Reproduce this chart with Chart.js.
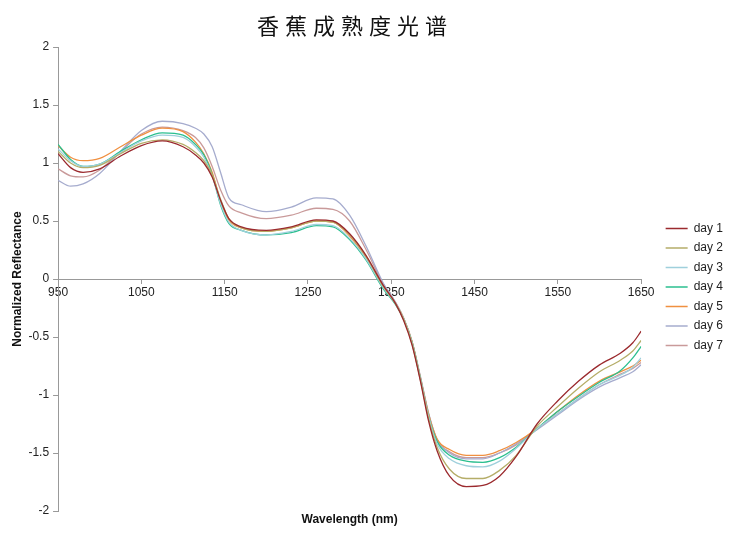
<!DOCTYPE html>
<html>
<head>
<meta charset="utf-8">
<script src="https://cdn.jsdelivr.net/npm/chart.js@4.4.1/dist/chart.umd.min.js"></script>
<style>
    body { margin: 0; background: #fff; }
    #wrap { position: relative; width: 742px; height: 545px; }
    #title {
        position: absolute; left: 0; top: 8px; width: 710px; text-align: center;
        font-family: "Noto Sans CJK SC", sans-serif; font-size: 22px; letter-spacing: 6px; color: #111;
    }
</style>
</head>
<body>
<div id="wrap">
    <div id="title">香蕉成熟度光谱</div>
    <canvas id="spectraChart" width="742" height="545"></canvas>
</div>
<script>
// wavelengths (nm)
const wavelengths = [950, 965, 980, 1000, 1025, 1050, 1075, 1100, 1115, 1125, 1135, 1145, 1155, 1170, 1200, 1230, 1260, 1280, 1300, 1320, 1340, 1355, 1365, 1375, 1385, 1395, 1405, 1420, 1440, 1460, 1480, 1500, 1525, 1550, 1575, 1600, 1625, 1640, 1650];

const day1 = [1.08, 0.96, 0.92, 0.95, 1.06, 1.15, 1.19, 1.14, 1.07, 1.00, 0.88, 0.68, 0.52, 0.45, 0.42, 0.45, 0.51, 0.50, 0.39, 0.20, -0.05, -0.21, -0.36, -0.57, -0.88, -1.23, -1.48, -1.70, -1.79, -1.78, -1.70, -1.53, -1.25, -1.05, -0.88, -0.74, -0.64, -0.55, -0.45];
const day2 = [1.10, 1.00, 0.96, 0.98, 1.08, 1.17, 1.20, 1.16, 1.09, 1.02, 0.90, 0.69, 0.52, 0.44, 0.41, 0.44, 0.50, 0.49, 0.38, 0.19, -0.06, -0.21, -0.35, -0.56, -0.87, -1.21, -1.45, -1.64, -1.72, -1.72, -1.65, -1.52, -1.27, -1.10, -0.94, -0.80, -0.70, -0.62, -0.53];
const day3 = [1.12, 1.02, 0.97, 0.99, 1.09, 1.19, 1.24, 1.22, 1.14, 1.05, 0.89, 0.65, 0.49, 0.42, 0.38, 0.41, 0.47, 0.46, 0.35, 0.17, -0.07, -0.21, -0.34, -0.55, -0.86, -1.19, -1.42, -1.55, -1.61, -1.62, -1.57, -1.46, -1.29, -1.16, -1.03, -0.91, -0.83, -0.76, -0.68];
const day4 = [1.16, 1.03, 0.97, 0.99, 1.10, 1.20, 1.26, 1.24, 1.16, 1.07, 0.90, 0.64, 0.48, 0.42, 0.38, 0.40, 0.46, 0.45, 0.34, 0.16, -0.08, -0.22, -0.35, -0.55, -0.86, -1.19, -1.40, -1.52, -1.57, -1.58, -1.54, -1.45, -1.29, -1.14, -1.01, -0.89, -0.79, -0.68, -0.58];
const day5 = [1.15, 1.05, 1.02, 1.04, 1.14, 1.24, 1.30, 1.27, 1.18, 1.08, 0.92, 0.67, 0.51, 0.44, 0.41, 0.44, 0.50, 0.49, 0.37, 0.18, -0.06, -0.21, -0.34, -0.54, -0.85, -1.17, -1.38, -1.47, -1.52, -1.52, -1.48, -1.41, -1.29, -1.14, -1.00, -0.88, -0.80, -0.75, -0.70];
const day6 = [0.85, 0.80, 0.82, 0.91, 1.10, 1.28, 1.36, 1.34, 1.30, 1.25, 1.14, 0.92, 0.70, 0.64, 0.58, 0.62, 0.70, 0.69, 0.55, 0.28, -0.03, -0.20, -0.34, -0.54, -0.84, -1.16, -1.38, -1.50, -1.55, -1.55, -1.50, -1.42, -1.30, -1.17, -1.04, -0.93, -0.85, -0.80, -0.74];
const day7 = [0.95, 0.89, 0.88, 0.94, 1.10, 1.25, 1.31, 1.28, 1.22, 1.13, 0.97, 0.77, 0.63, 0.57, 0.52, 0.55, 0.61, 0.60, 0.50, 0.25, -0.04, -0.20, -0.34, -0.54, -0.85, -1.17, -1.39, -1.49, -1.54, -1.54, -1.50, -1.43, -1.29, -1.16, -1.03, -0.91, -0.82, -0.77, -0.72];

const seriesNames = ['day 1', 'day 2', 'day 3', 'day 4', 'day 5', 'day 6', 'day 7'];
const seriesValues = [day1, day2, day3, day4, day5, day6, day7];
const seriesColors = ['#9b2a2e', '#b5ad68', '#9fd0dc', '#2bbf8f', '#f09040', '#a6acce', '#c99a9a'];
const xTicks = [950, 1050, 1150, 1250, 1350, 1450, 1550, 1650];

const datasets = seriesValues.map((vals, i) => ({
    label: seriesNames[i],
    data: vals.map((v, j) => ({ x: wavelengths[j], y: v })),
    xAxisID: 'x',
    yAxisID: 'y',
    borderColor: seriesColors[i],
    backgroundColor: seriesColors[i],
    borderWidth: 1.3,
    pointRadius: 0,
    cubicInterpolationMode: 'monotone',
    fill: false
}));

const font = { family: '"Liberation Sans", Arial, sans-serif', size: 12 };

new Chart(document.getElementById('spectraChart').getContext('2d'), {
    type: 'line',
    data: { datasets: datasets },
    options: {
        responsive: false,
        animation: false,
        layout: { padding: { top: 47, left: 10, right: 9, bottom: 16 } },
        plugins: {
            title: { display: false },
            tooltip: { enabled: false },
            legend: {
                position: 'right',
                fullSize: false,
                // blank legend title only nudges the items down a little
                title: { display: true, text: ' ', font: { size: 10 }, padding: { top: 2, bottom: 2 } },
                labels: {
                    usePointStyle: true,
                    pointStyle: 'line',
                    pointStyleWidth: 22,
                    padding: 7.5,
                    color: '#222',
                    font: font
                }
            }
        },
        scales: {
            x: {
                type: 'linear',
                position: { y: 0 },
                min: 950,
                max: 1650,
                afterBuildTicks: scale => { scale.ticks = xTicks.map(v => ({ value: v })); },
                grid: { drawOnChartArea: false, drawTicks: true, tickLength: 4, color: '#999' },
                border: { color: '#999' },
                ticks: { color: '#222', font: font, maxRotation: 0, padding: 2, callback: v => String(v) }
            },
            xTitle: {
                type: 'linear',
                position: 'bottom',
                min: 950,
                max: 1650,
                grid: { display: false },
                border: { display: false },
                ticks: { display: false },
                afterFit: scale => { scale.height = 18; },
                title: {
                    display: true,
                    text: 'Wavelength (nm)',
                    color: '#111',
                    font: { family: font.family, size: 12, weight: 'bold' },
                    padding: { top: 2, bottom: 2 }
                }
            },
            // empty axis that only keeps a gap between the plot and the legend
            gap: {
                type: 'linear',
                position: 'right',
                grid: { display: false },
                border: { display: false },
                ticks: { display: false },
                afterFit: scale => { scale.width = 17; }
            },
            y: {
                min: -2,
                max: 2,
                ticks: { stepSize: 0.5, color: '#222', font: font, padding: 4, callback: v => String(v) },
                grid: { drawOnChartArea: false, drawTicks: true, tickLength: 5, color: '#999' },
                border: { color: '#999' },
                title: {
                    display: true,
                    text: 'Normalized Reflectance',
                    color: '#111',
                    font: { family: font.family, size: 12, weight: 'bold' },
                    padding: { top: 0, bottom: 0 }
                }
            }
        }
    }
});
</script>
</body>
</html>
